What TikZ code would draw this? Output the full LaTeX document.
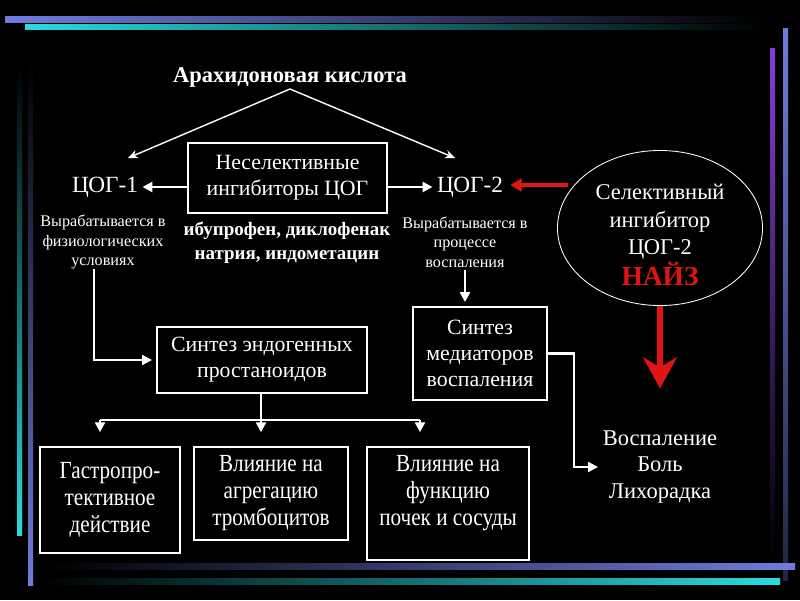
\documentclass[tikz,border=0pt]{standalone}
\usepackage{fontspec}
\setmainfont{Liberation Serif}
\usetikzlibrary{arrows.meta}
\usetikzlibrary{shapes.geometric}
\usetikzlibrary{positioning}
\definecolor{barblue}{RGB}{110,125,220}
\definecolor{barcyan}{RGB}{40,220,225}
\definecolor{barviolet}{RGB}{135,60,215}
\definecolor{nsaidred}{RGB}{225,20,20}
\tikzset{box/.style={draw=white,line width=1pt,text=white,align=center,inner sep=0pt,
    font=\fontsize{15.5}{18.5}\selectfont}}
\tikzset{txt/.style={text=white,align=center,inner sep=1pt,font=\fontsize{15.5}{18.5}\selectfont}}
\tikzset{narrow/.style={font=\fontsize{17.5}{19.2}\selectfont\addfontfeature{FakeStretch=0.86}}}
\tikzset{small/.style={text=white,align=center,inner sep=1pt,font=\fontsize{11.5}{14}\selectfont}}
\tikzset{arrow/.style={draw=white,line width=2pt,-{Triangle[length=7pt,width=7pt]}}}
\tikzset{thinarrow/.style={draw=white,line width=1pt,-{Stealth[length=7pt,width=6pt]}}}
\tikzset{redarrow/.style={draw=nsaidred,line width=3pt,-{Triangle[length=8pt,width=9pt]}}}
\tikzset{bar/.style={draw=none}}

\begin{document}
\begin{tikzpicture}[x=0.025cm,y=-0.025cm]
        % background and frame bars
        \fill[black] (0,0) rectangle (800,600);
        \shade[bar,left color=barblue,right color=black] (5,16) rectangle (765,22);
        \shade[bar,left color=barcyan,right color=black] (25,24) rectangle (765,29);
        \shade[bar,top color=barviolet,bottom color=black] (770,48) rectangle (775,560);
        \shade[bar,top color=barblue,bottom color=black!70!barblue] (783,28) rectangle (788,580);
        \shade[bar,top color=black,bottom color=barcyan] (17,65) rectangle (22,535);
        \shade[bar,top color=black,bottom color=barblue] (28,60) rectangle (33,585);
        \shade[bar,left color=black,right color=barblue] (45,563) rectangle (795,569);
        \shade[bar,left color=black,right color=barcyan] (40,578) rectangle (780,584);

        % texts
        \node[txt,font=\bfseries\fontsize{16}{18}\selectfont] (arach) at (290,77) {Арахидоновая кислота};
        \node[txt,font=\fontsize{16.5}{18}\selectfont] (cog1) at (105,187) {ЦОГ-1};
        \node[txt,font=\fontsize{16.5}{18}\selectfont] (cog2) at (470,187) {ЦОГ-2};
        \node[small] (phys) at (103,242) {Вырабатывается в\\физиологических\\условиях};
        \node[small] (inflam) at (465,242) {Вырабатывается в\\процессе\\воспаления};
        \node[txt,font=\bfseries\fontsize{13.5}{17}\selectfont] (ibu) at (287,243)
            {ибупрофен, диклофенак\\натрия, индометацин};
        \node[txt,font=\fontsize{16}{18.8}\selectfont] (sympt) at (660,467)
            {Воспаление\\Боль\\Лихорадка};

        % boxes
        \node[box,minimum width=4.975cm,minimum height=1.75cm] (nonsel) at (287.5,178)
            {Неселективные\\ингибиторы ЦОГ};
        \node[box,minimum width=5.25cm,minimum height=1.65cm] (endo) at (262,360)
            {Синтез эндогенных\\простаноидов};
        \node[box,minimum width=3.35cm,minimum height=2.325cm] (mediat) at (480,353.5)
            {Синтез\\медиаторов\\воспаления};
        \node[box,narrow,minimum width=3.5cm,minimum height=2.65cm] (gastro) at (110,500)
            {Гастропро-\\тективное\\действие};
        \node[box,narrow,minimum width=3.85cm,minimum height=2.325cm] (aggr) at (271,493.5)
            {Влияние на\\агрегацию\\тромбоцитов};
        \node[box,minimum width=4.05cm,minimum height=2.825cm] (kidney) at (448,503.5) {};
        \node[txt,narrow] (kidneytxt) at (448,493.5)
            {Влияние на\\функцию\\почек и сосуды};
        \node[ellipse,draw=white,line width=0.6pt,minimum width=5.125cm,minimum height=3.875cm]
            (selinh) at (660,228) {};
        \node[txt,font=\fontsize{16}{19.3}\selectfont] (seltxt) at (660,235)
            {Селективный\\ингибитор\\ЦОГ-2\\[1pt]{\color{nsaidred}\bfseries\fontsize{19.5}{20}\selectfont НАЙЗ}};

        % connectors
        \coordinate (apex) at (290,89);
        \coordinate (leftend) at (128,158);
        \coordinate (rightend) at (455,158);
        \draw[thinarrow] (apex) -- (leftend);
        \draw[thinarrow] (apex) -- (rightend);
        \draw[arrow,shorten >=2pt] (nonsel.west |- cog1) -- (cog1.east);
        \draw[arrow,shorten >=2pt] (nonsel.east |- cog2) -- (cog2.west);
        \coordinate (redstart) at (568,185);
        \draw[redarrow,shorten >=4pt] (redstart) -- (cog2.east |- redstart);

        \coordinate (physout) at (94,269);
        \draw[arrow,line width=1.5pt] (physout) |- ([xshift=-3pt]endo.west);
        \coordinate (fork) at (261,420);
        \coordinate (forkl) at (100,420);
        \coordinate (forkr) at (420,420);
        \draw[white,line width=2pt] (endo.south -| fork) -- (fork);
        \draw[white,line width=2pt] (forkl) -- (forkr);
        \draw[arrow,shorten >=10pt] (forkl) -- (forkl |- gastro.north);
        \draw[arrow,shorten >=10pt] (fork) -- (fork |- aggr.north);
        \draw[arrow,shorten >=10pt] (forkr) -- (forkr |- kidney.north);

        \coordinate (inflout) at (465,270);
        \draw[arrow,shorten >=3pt] (inflout) -- (inflout |- mediat.north);
        \coordinate (symin) at (598,467);
        \draw[arrow,line width=1.5pt] (mediat.east) -- ++(26,0) |- (symin);
        \draw[draw=nsaidred,line width=4.5pt,-{Stealth[length=22pt,width=24pt,inset=7pt]},shorten >=29pt]
            (selinh.south) -- (sympt.north);
\end{tikzpicture}
\end{document}
